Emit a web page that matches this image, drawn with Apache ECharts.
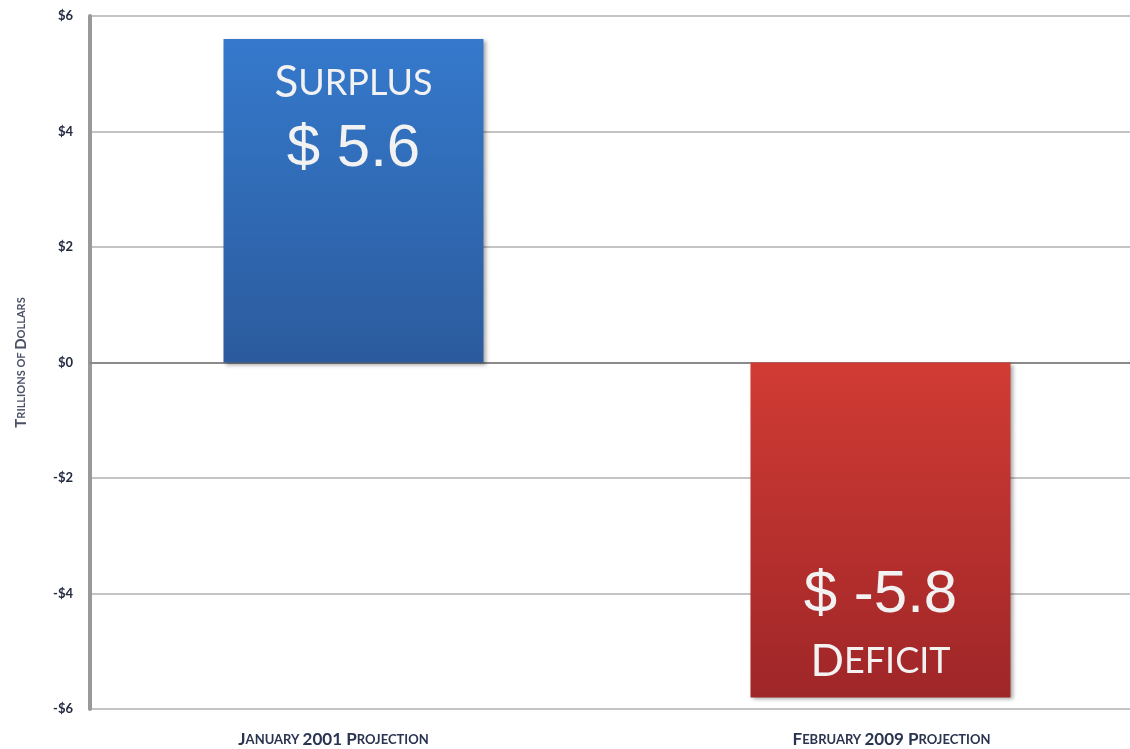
<!DOCTYPE html>
<html>
<head>
<meta charset="utf-8">
<script src="https://cdn.jsdelivr.net/npm/echarts@6/dist/echarts.min.js"></script>
<style>
  html, body { margin: 0; padding: 0; background: #fff; }
  #chart { width: 1130px; height: 749px; }
</style>
</head>
<body>
<div id="chart"></div>
<script>
// data
var categories = ['January 2001 Projection', 'February 2009 Projection'];
var values = [5.6, -5.8];
var barNames = ['Surplus', 'Deficit'];

// small caps by hand: capitals and digits big, lower case letters as smaller capitals
function smallCaps(text, big, small) {
  var out = '';
  var run = '', runBig = null;
  for (var i = 0; i < text.length; i++) {
    var ch = text.charAt(i);
    var isBig = !(ch >= 'a' && ch <= 'z') && ch !== ' ';
    if (ch === ' ') isBig = runBig === null ? false : runBig;
    if (runBig !== null && isBig !== runBig) {
      out += '{' + (runBig ? big : small) + '|' + run.toUpperCase() + '}';
      run = '';
    }
    runBig = isBig;
    run += ch;
  }
  if (run) out += '{' + (runBig ? big : small) + '|' + run.toUpperCase() + '}';
  return out;
}

function money(v) {
  if (v < 0) return '-$' + Math.abs(v);
  return '$' + v;
}

var myChart = echarts.init(document.getElementById('chart'));

var barColors = [
  new echarts.graphic.LinearGradient(0, 0, 0, 1, [
    { offset: 0, color: '#3579cc' },
    { offset: 1, color: '#2b5b9d' }
  ]),
  new echarts.graphic.LinearGradient(0, 0, 0, 1, [
    { offset: 0, color: '#d13b34' },
    { offset: 1, color: '#9f2628' }
  ])
];

var capsRich = {
  big: { fontFamily: 'Lato', fontSize: 44, color: '#f2f2f2', lineHeight: 56 },
  small: { fontFamily: 'Lato', fontSize: 36, color: '#f2f2f2', lineHeight: 56 },
  num: { fontFamily: 'Liberation Sans', fontSize: 60, color: '#f2f2f2', lineHeight: 76 }
};

var labelRich = {
  b: { fontFamily: 'Lato', fontWeight: 'bold', fontSize: 17, color: '#2a3350' },
  s: { fontFamily: 'Lato', fontWeight: 'bold', fontSize: 13, color: '#2a3350' },
  gapL: { width: 40 },
  gapR: { width: 22 }
};

var option = {
  animation: false,
  grid: { left: 90, right: -14, top: 16, bottom: 40, outerBoundsMode: 'none' },
  xAxis: {
    type: 'category',
    data: categories,
    axisTick: { show: false },
    axisLine: { onZero: true, lineStyle: { color: '#8a8a8a', width: 2 } },
    axisLabel: {
      margin: 22,
      formatter: function (v, i) {
        var t = smallCaps(v, 'b', 's');
        return i === 0 ? t + '{gapL|}' : '{gapR|}' + t;
      },
      rich: labelRich
    }
  },
  yAxis: {
    type: 'value',
    min: -6,
    max: 6,
    interval: 2,
    name: smallCaps('Trillions of Dollars', 'b', 's'),
    nameLocation: 'middle',
    nameGap: 61,
    nameRotate: 90,
    nameTextStyle: {
      rich: {
        b: { fontFamily: 'Lato', fontWeight: 'bold', fontSize: 15, color: '#4a5066' },
        s: { fontFamily: 'Lato', fontWeight: 'bold', fontSize: 11, color: '#4a5066' }
      }
    },
    axisLine: { show: true, lineStyle: { color: '#999', width: 4 } },
    axisTick: { show: false },
    axisLabel: {
      margin: 17,
      fontFamily: 'Lato',
      fontWeight: 'bold',
      fontSize: 13,
      color: '#232a40',
      formatter: function (v) { return money(v); }
    },
    splitLine: { lineStyle: { color: '#c4c4c4', width: 2 } }
  },
  series: [{
    type: 'bar',
    barWidth: 260,
    data: values.map(function (v, i) {
      var caps = smallCaps(barNames[i], 'big', 'small');
      var num = '{num|$ ' + v + '}';
      return {
        value: v,
        itemStyle: {
          color: barColors[i],
          shadowColor: 'rgba(0,0,0,0.35)',
          shadowBlur: 4,
          shadowOffsetX: 2,
          shadowOffsetY: 2
        },
        label: {
          show: true,
          position: v >= 0 ? 'insideTop' : 'insideBottom',
          distance: v >= 0 ? 16 : 8,
          formatter: v >= 0 ? caps + '\n' + num : num + '\n' + caps,
          rich: capsRich
        }
      };
    })
  }]
};

myChart.setOption(option);
</script>
</body>
</html>
